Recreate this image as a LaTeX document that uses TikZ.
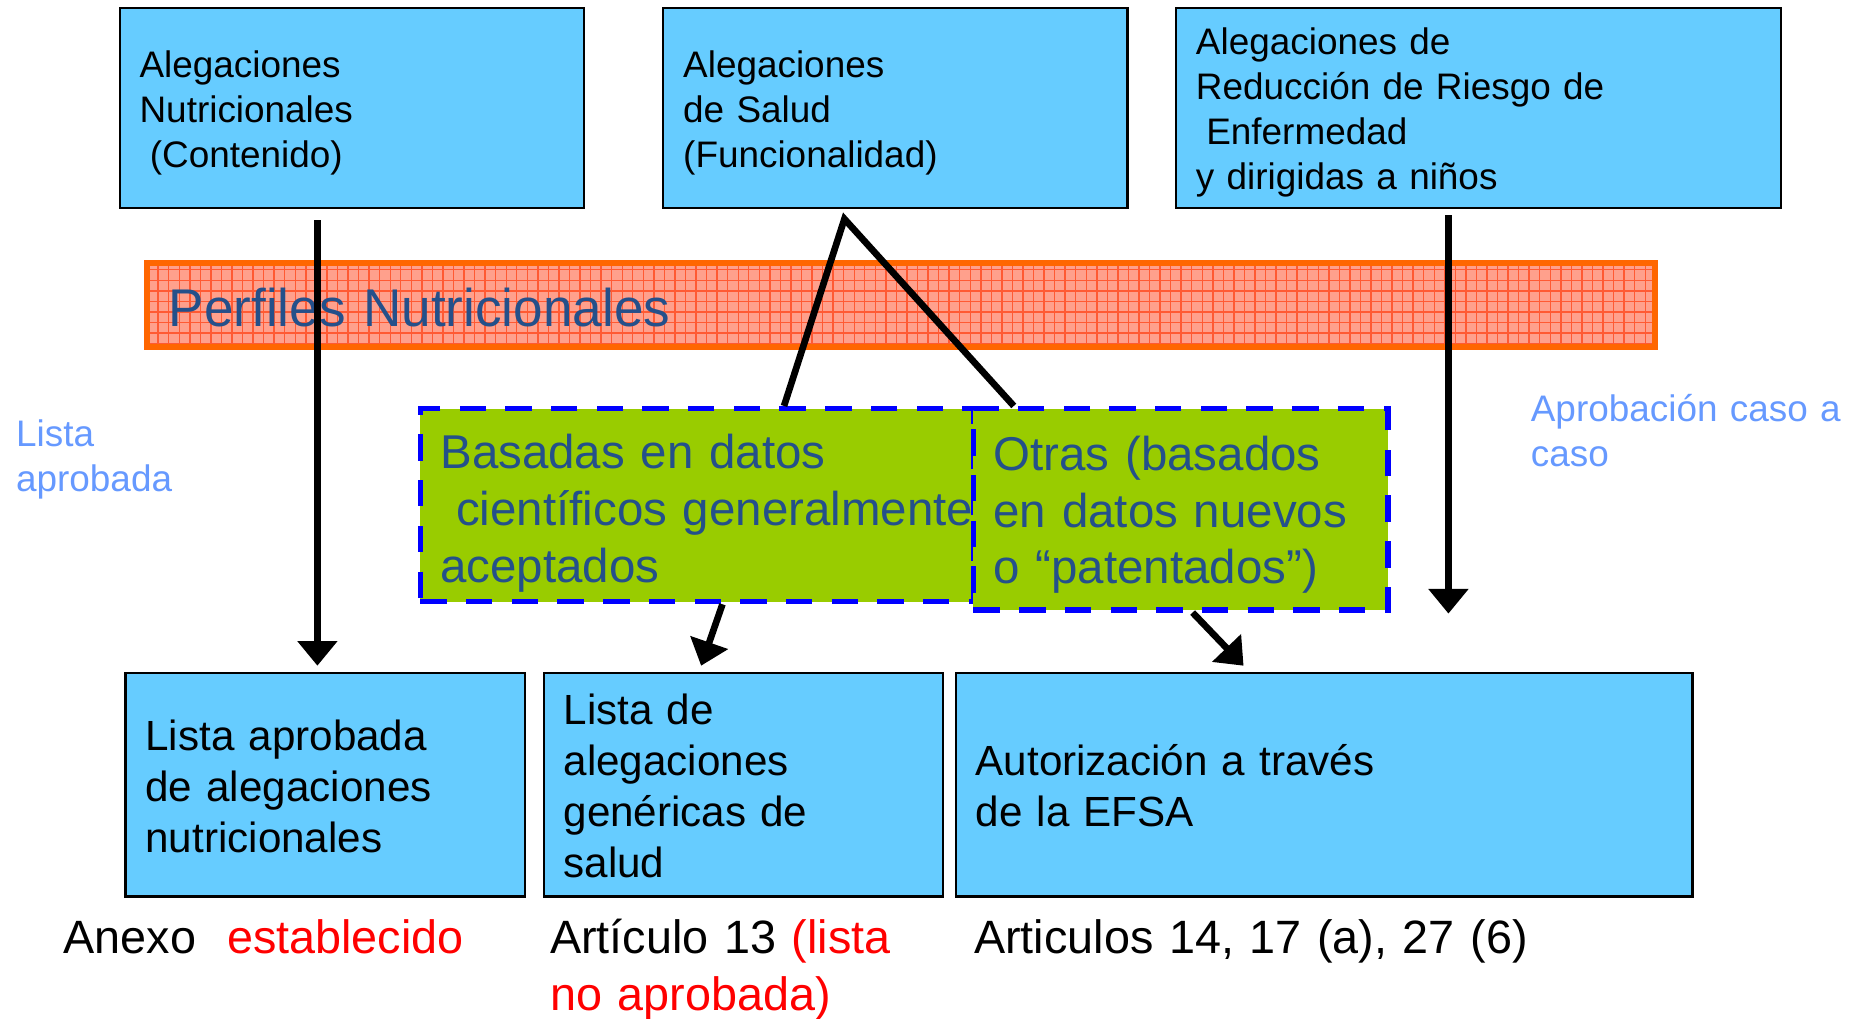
\documentclass[tikz,border=0pt]{standalone}
\usepackage{fontspec}
\setmainfont{Liberation Sans}
\usetikzlibrary{arrows.meta,patterns}
\definecolor{cajaazul}{HTML}{66CCFF}
\definecolor{verde}{HTML}{99CC00}
\definecolor{azultexto}{HTML}{24508A}
\definecolor{naranja}{HTML}{FF6600}
\definecolor{salmon}{HTML}{FFA08C}
\definecolor{rejilla}{HTML}{FF5A33}
\definecolor{celeste}{HTML}{6699FF}
\definecolor{rojo}{HTML}{FF0000}
\newcommand{\tamchico}{\fontsize{10.5}{12.8}\selectfont}
\newcommand{\tammedio}{\fontsize{12}{14.5}\selectfont}
\newcommand{\tamgrande}{\fontsize{13.5}{16.2}\selectfont}
\newcommand{\tampie}{\fontsize{13.3}{16.2}\selectfont}
\newcommand{\tamperfil}{\fontsize{15.1}{18}\selectfont}
\tikzset{
  caja/.style={draw=black, line width=0.6pt, fill=cajaazul, align=left, inner xsep=0.2cm, inner ysep=0pt},
  verdecaja/.style={draw=blue, line width=1.5pt, dash pattern=on 7.5pt off 5.5pt, fill=verde, text=azultexto, align=left, inner xsep=0.2cm, inner ysep=0pt, font=\tamgrande},
  flecha/.style={line width=1.9pt, -{Triangle[width=11pt,length=7pt]}},
  raya/.style={line width=1.9pt},
  nota/.style={anchor=base west, align=left, inner sep=0pt}
}

\begin{document}
\begin{tikzpicture}[x=0.011843cm, y=-0.011843cm]
\useasboundingbox (0,0) rectangle (1568,860);

\node[caja, minimum width=4.642cm, minimum height=2.001cm, text width=4.242cm, text height=10.2pt, font=\tamchico] (nutricionales) at (297,91.5) {Alegaciones\\Nutricionales\\\hspace*{0.28em}(Contenido)};
\node[caja, minimum width=4.642cm, minimum height=2.001cm, text width=4.242cm, text height=10.2pt, font=\tamchico] (salud) at (756,91.5) {Alegaciones\\de Salud\\(Funcionalidad)};
\node[caja, minimum width=6.052cm, minimum height=2.001cm, text width=5.652cm, text height=10.2pt, font=\tamchico] (riesgo) at (1248.5,91.5) {Alegaciones de\\Reducción de Riesgo de\\\hspace*{0.28em}Enfermedad\\y dirigidas a niños};

\node[draw=naranja, line width=1.7pt, preaction={fill=salmon}, pattern=grid, pattern color=rejilla, minimum width=15.076cm, minimum height=0.841cm, text width=14.636cm, text height=12.2pt, inner xsep=0.22cm, inner ysep=0pt, align=left, text=azultexto, font=\tamperfil] (perfiles) at (760.5,257.5) {Perfiles Nutricionales};

\node[verdecaja, minimum width=5.531cm, minimum height=1.930cm, text width=5.131cm, text height=14.5pt] (basadas) at (588.5,426.5) {Basadas en datos\\\mbox{\ científicos generalmente}\\aceptados};
\node[verdecaja, minimum width=4.145cm, minimum height=2.013cm, text width=3.745cm, text height=12.9pt] (otras) at (997,430) {Otras (basados\\en datos nuevos\\o “patentados”)};

\node[caja, minimum width=3.991cm, minimum height=2.238cm, text width=3.591cm, text height=9.6pt, font=\tammedio] (listaaprobada) at (274.5,662.5) {Lista aprobada\\de alegaciones\\nutricionales};
\node[caja, minimum width=3.991cm, minimum height=2.238cm, text width=3.591cm, text height=9.2pt, font=\tammedio] (genericas) at (627.5,662.5) {Lista de\\alegaciones\\genéricas de\\salud};
\node[caja, minimum width=7.366cm, minimum height=2.238cm, text width=6.966cm, text height=9.2pt, font=\tammedio] (efsa) at (1118,662.5) {Autorización a través\\de la EFSA};

\node[nota, text width=3cm, font=\tamchico, text=celeste] (listalabel) at (13,377) {Lista\\aprobada};
\node[nota, text width=4cm, font=\tamchico, text=celeste] (casolabel) at (1292,356) {Aprobación caso a\\caso};
\node[nota, text width=4.5cm, font=\tampie] (anexo) at (53,805) {Anexo\ \ \textcolor{rojo}{establecido}};
\node[nota, text width=4cm, font=\tampie] (articulo) at (464,805) {Artículo 13 {\color{rojo}(lista\\no aprobada)}};
\node[nota, text width=7cm, font=\tampie] (articulos) at (822,805) {Articulos 14, 17 (a), 27 (6)};

\coordinate (cima) at ([shift={(-43,8)}]salud.south);
\coordinate (finriesgo) at ([shift={(105,-49)}]efsa.north);
\draw[flecha] ([shift={(-29,9)}]nutricionales.south) -- ([shift={(-6.5,-5)}]listaaprobada.north);
\draw[raya] ([shift={(73.5,0)}]basadas.north) -- (cima) -- ([shift={(-141,0)}]otras.north);
\draw[flecha] ([shift={(21.5,0)}]basadas.south) -- ([shift={(-35.5,-5)}]genericas.north);
\draw[flecha] ([shift={(10,0)}]otras.south) -- ([shift={(-68,-5)}]efsa.north);
\draw[flecha] ([shift={(-25.5,5)}]riesgo.south) -- (finriesgo);
\end{tikzpicture}
\end{document}
